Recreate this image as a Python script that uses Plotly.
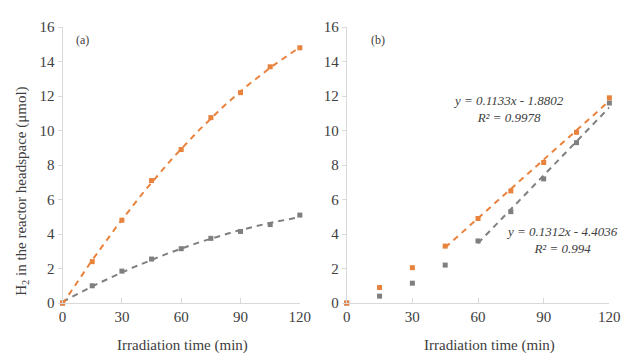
import numpy as np
import plotly.graph_objects as go

# Irradiation times (min)
time_min = [0, 15, 30, 45, 60, 75, 90, 105, 120]

# Panel (a): H2 in the reactor headspace (umol)
a_orange = [0, 2.4, 4.8, 7.1, 8.9, 10.75, 12.2, 13.7, 14.8]
a_gray = [0, 1.0, 1.85, 2.55, 3.15, 3.75, 4.15, 4.55, 5.1]

# Panel (b): H2 in the reactor headspace (umol)
b_orange = [0, 0.9, 2.05, 3.3, 4.9, 6.5, 8.15, 9.9, 11.9]
b_gray = [0, 0.4, 1.15, 2.2, 3.6, 5.3, 7.2, 9.3, 11.6]

# Linear fits shown in panel (b): slope, intercept, fitted time span
fit_orange = (0.1133, -1.8802, 45, 120)
fit_gray = (0.1312, -4.4036, 60, 120)

y_ticks = [0, 2, 4, 6, 8, 10, 12, 14, 16]
x_ticks = [0, 30, 60, 90, 120]

ORANGE = "#E8823C"
GRAY = "#7F7F7F"
SERIF = "Liberation Serif, Times New Roman, serif"

fig = go.Figure()

def markers(x, y, color, xa, ya):
    fig.add_trace(go.Scatter(x=x, y=y, mode="markers", xaxis=xa, yaxis=ya,
                             marker=dict(symbol="square", size=5, color=color),
                             cliponaxis=False, showlegend=False))

def trend(x, y, color, xa, ya):
    fig.add_trace(go.Scatter(x=x, y=y, mode="lines", xaxis=xa, yaxis=ya,
                             line=dict(color=color, width=2, dash="6px,5px"),
                             cliponaxis=False, showlegend=False))

# Panel (a): second-order polynomial trend lines through each series
xs = np.linspace(0, 120, 121)
for ys, col in [(a_gray, GRAY), (a_orange, ORANGE)]:
    coef = np.polyfit(time_min, ys, 2)
    trend(xs, np.polyval(coef, xs), col, "x", "y")
    markers(time_min, ys, col, "x", "y")

# Panel (b): linear trend lines from the fitted equations
for (m, c, x0, x1), ys, col in [(fit_gray, b_gray, GRAY), (fit_orange, b_orange, ORANGE)]:
    xl = np.array([x0, x1])
    trend(xl, m * xl + c, col, "x2", "y2")
for ys, col in [(b_gray, GRAY), (b_orange, ORANGE)]:
    markers(time_min, ys, col, "x2", "y2")

axis_common = dict(showgrid=False, zeroline=False, showline=True,
                   linecolor="#D9D9D9", linewidth=1,
                   tickfont=dict(family=SERIF, size=15, color="#404040"))

xdom_a = [60 / 635, 303 / 635]
xdom_b = [351 / 635, 620 / 635]
ydom = [(354 - 309) / 354, (354 - 20) / 354]

fig.update_layout(
    width=635, height=354,
    margin=dict(l=0, r=0, t=0, b=0),
    paper_bgcolor="white", plot_bgcolor="white",
    xaxis=dict(domain=xdom_a, range=[0, 120], tickvals=x_ticks, anchor="y",
               ticks="inside", ticklen=5, tickcolor="#D9D9D9", **axis_common),
    yaxis=dict(domain=ydom, range=[0, 16], tickvals=y_ticks, anchor="x",
               ticks="outside", ticklen=4, tickcolor="#D9D9D9", **axis_common),
    xaxis2=dict(domain=xdom_b, range=[0, 120], tickvals=x_ticks, anchor="y2",
                ticks="inside", ticklen=5, tickcolor="#D9D9D9", **axis_common),
    yaxis2=dict(domain=ydom, range=[0, 16], tickvals=y_ticks, anchor="x2",
                ticks="outside", ticklen=4, tickcolor="#D9D9D9", **axis_common),
)

txt = dict(family=SERIF, color="#404040")
ann = [
    dict(text="(a)", x=80 / 635, y=1 - 33 / 354, font=dict(size=12, **txt)),
    dict(text="(b)", x=383 / 635, y=1 - 33 / 354, font=dict(size=12, **txt)),
    dict(text="H<sub>2</sub> in the reactor headspace (μmol)", x=19 / 635,
         y=1 - 192 / 354, textangle=-90, font=dict(size=15, **txt)),
    dict(text="Irradiation time (min)", x=183 / 635, y=1 - 343 / 354,
         yanchor="top", font=dict(size=15, **txt)),
    dict(text="Irradiation time (min)", x=497 / 635, y=1 - 343 / 354,
         yanchor="top", font=dict(size=15, **txt)),
    dict(text="<i>y = 0.1133x - 1.8802</i><br><i>R² = 0.9978</i>", x=517 / 635,
         y=1 - 106 / 354, font=dict(size=13, **txt)),
    dict(text="<i>y = 0.1312x - 4.4036</i><br><i>R² = 0.994</i>", x=572 / 635,
         y=1 - 243 / 354, font=dict(size=13, **txt)),
]
for a in ann:
    a.setdefault("yanchor", "middle")
    a.update(xref="paper", yref="paper", showarrow=False, xanchor="center")
fig.update_layout(annotations=ann)

fig.write_html("out.html")
